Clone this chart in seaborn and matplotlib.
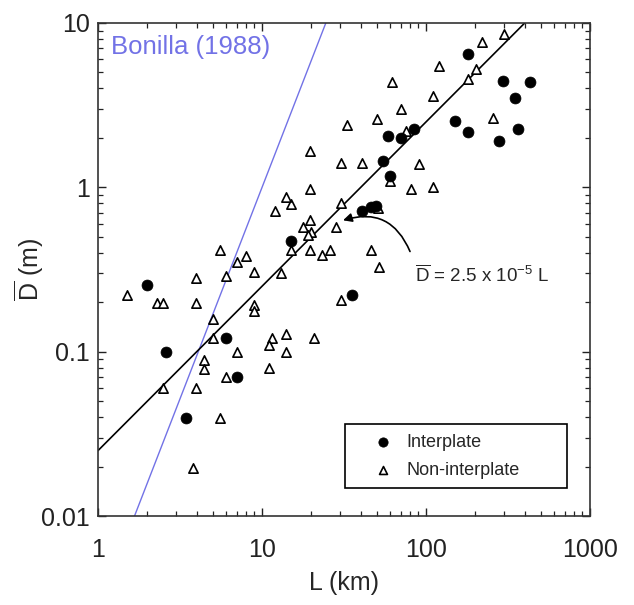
import numpy as np
import pandas as pd
import matplotlib
matplotlib.use("Agg")
import matplotlib.pyplot as plt
from matplotlib.patches import Rectangle
import seaborn as sns

# ---- data ----
inter_L = [1.98, 2.59, 3.43, 6.01, 7.01, 14.96, 35.2, 40.5, 45.9, 49.5, 54.5, 60.3,
           58.4, 70.1, 84.8, 150, 181, 181, 280, 296, 349, 365, 431]
inter_D = [0.256, 0.099, 0.0397, 0.1205, 0.0704, 0.469, 0.222, 0.714, 0.760, 0.771,
           1.44, 1.18, 2.05, 2.01, 2.25, 2.53, 2.16, 6.47, 1.91, 4.45, 3.52, 2.28, 4.39]

non_L = [1.50, 2.28, 2.50, 3.96, 3.96, 6.03, 5.54, 7.07, 7.95, 8.94, 5.01, 5.01, 8.94,
         8.94, 11.47, 14.0, 20.75, 11.03, 7.07, 14.0, 4.43, 4.43, 6.03, 11.03, 2.48,
         3.96, 5.54, 3.78, 30.2, 23.2, 26.0, 19.6, 14.96, 13.0, 19.6, 17.8, 19.8, 19.1,
         28.1, 12.0, 14.96, 14.0, 19.6, 30.2, 19.6, 30.2, 40.5, 32.9, 50.5, 70.1, 61.8,
         110, 120, 181, 201, 220, 299, 257, 75.2, 91.0, 60.3, 80.7, 111, 51.2, 46.0, 51.9]
non_D = [0.220, 0.197, 0.197, 0.197, 0.279, 0.288, 0.413, 0.350, 0.381, 0.304, 0.157,
         0.121, 0.191, 0.178, 0.1205, 0.128, 0.1205, 0.110, 0.099, 0.099, 0.089, 0.0784,
         0.0697, 0.0796, 0.060, 0.060, 0.0397, 0.0197, 0.2065, 0.390, 0.413, 0.413, 0.413,
         0.300, 0.629, 0.570, 0.534, 0.510, 0.570, 0.714, 0.788, 0.869, 0.972, 0.799,
         1.66, 1.41, 1.41, 2.39, 2.62, 2.99, 4.35, 3.60, 5.49, 4.54, 5.22, 7.69, 8.57,
         2.65, 2.20, 1.39, 1.09, 0.972, 1.0, 0.748, 0.413, 0.327]

fit_L = np.array([1.0, 430.0])
fit_D = 2.5e-5 * fit_L * 1000.0          # D = 2.5e-5 L (L in m)

bonilla_L = [1.67, 24.5]
bonilla_D = [0.01, 10.0]

x_ticks = [1, 10, 100, 1000]
x_ticklabels = ["1", "10", "100", "1000"]
y_ticks = [0.01, 0.1, 1, 10]
y_ticklabels = ["0.01", "0.1", "1", "10"]

# ---- style ----
sns.set_style("ticks")
plt.rcParams["font.family"] = ["Liberation Sans", "DejaVu Sans"]
plt.rcParams["mathtext.fontset"] = "custom"
plt.rcParams["mathtext.rm"] = "Liberation Sans"
plt.rcParams["mathtext.it"] = "Liberation Sans:italic"

fig = plt.figure(figsize=(6.34, 6.05), dpi=100)
ax = fig.add_axes([98 / 634, 1 - 516 / 605, 492 / 634, 493 / 605])

blue = "#7272e6"

sns.lineplot(x=bonilla_L, y=bonilla_D, ax=ax, color=blue, lw=1.0, zorder=2)
sns.lineplot(x=fit_L, y=fit_D, ax=ax, color="black", lw=1.2, zorder=2)

inter = pd.DataFrame({"L": inter_L, "D": inter_D})
non = pd.DataFrame({"L": non_L, "D": non_D})

sns.scatterplot(data=non, x="L", y="D", ax=ax, marker="^", s=45,
                color="white", edgecolor="black", linewidth=1.2, zorder=3,
                label="Non-interplate")
sns.scatterplot(data=inter, x="L", y="D", ax=ax, marker="o", s=62,
                color="black", edgecolor="black", linewidth=0.5, zorder=4,
                label="Interplate")

ax.set_xscale("log")
ax.set_yscale("log")
ax.set_xlim(1, 1000)
ax.set_ylim(0.01, 10)
ax.set_xticks(x_ticks)
ax.set_xticklabels(x_ticklabels)
ax.set_yticks(y_ticks)
ax.set_yticklabels(y_ticklabels)

ax.tick_params(which="both", direction="in", top=True, right=True, colors="#222222")
ax.tick_params(which="major", length=6, width=1.0, labelsize=18, pad=6)
ax.tick_params(axis="x", which="major", pad=16)
ax.tick_params(which="minor", length=3.5, width=0.9)
for sp in ax.spines.values():
    sp.set_linewidth(1.2)
    sp.set_color("#333333")

ax.set_xlabel("L (km)", fontsize=18, labelpad=6)
ax.set_ylabel(r"$\overline{\mathrm{D}}$ (m)", fontsize=18)
ax.yaxis.set_label_coords(-0.106, 0.5)

ax.text(0.026, 0.951, "Bonilla (1988)", transform=ax.transAxes, color=blue,
        fontsize=18.5, ha="left", va="center")

ax.text(85.7, 0.29, r"$\overline{\mathrm{D}}$ = 2.5 x 10$^{-5}$ L", fontsize=13.5,
        ha="left", va="center")
ax.annotate("", xy=(31.2, 0.63), xytext=(79.9, 0.407),
            arrowprops=dict(arrowstyle="-|>", color="black", lw=1.2,
                            connectionstyle="arc3,rad=0.45",
                            mutation_scale=13, shrinkA=0, shrinkB=0))

# legend frame (drawn as a box) and entries
ax.add_patch(Rectangle((0.502, 0.0568), 0.451, 0.1298, transform=ax.transAxes,
                       facecolor="white", edgecolor="black", lw=1.2, zorder=5))
handles, labels = ax.get_legend_handles_labels()
order = [labels.index("Interplate"), labels.index("Non-interplate")]
leg = ax.legend([handles[i] for i in order], [labels[i] for i in order],
                loc="upper left", bbox_to_anchor=(0.557, 0.166), borderaxespad=0,
                borderpad=0, fontsize=13, frameon=False, handletextpad=0.7,
                labelspacing=0.6, handlelength=1.2, markerscale=0.85)
leg.set_zorder(6)

fig.savefig("out.png", dpi=100)
